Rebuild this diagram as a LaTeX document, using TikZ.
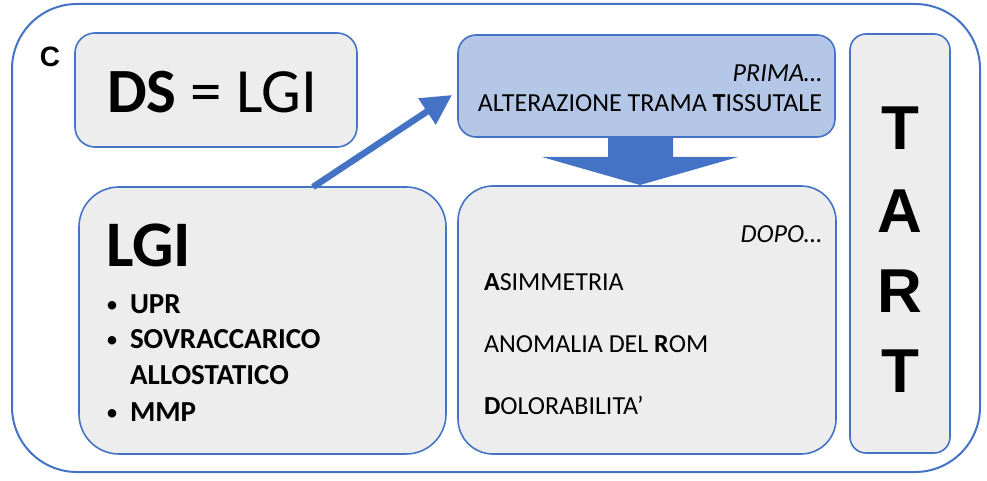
\documentclass[tikz,border=0pt]{standalone}
\usepackage{fontspec}
\setmainfont{Carlito}
\newfontfamily\arialfont{Liberation Sans}
\usetikzlibrary{arrows.meta}
\definecolor{frameblue}{HTML}{4472C4}
\definecolor{boxgray}{HTML}{EDEDED}
\definecolor{primablue}{HTML}{B4C7E7}
\begin{document}
\begin{tikzpicture}[x=1pt,y=-1pt,
  panel/.style={draw=frameblue, line width=1.6pt, fill=boxgray, rounded corners=#1,
    inner sep=0pt, outer sep=0pt, rectangle},
  txt/.style={inner sep=0pt, outer sep=0pt, font=\fontsize{26}{26}\selectfont},
  btxt/.style={inner sep=0pt, outer sep=0pt, font=\fontsize{29}{29}\selectfont\bfseries},
  bulletmark/.style={inner sep=0pt, outer sep=0pt, font=\fontsize{24}{24}\selectfont},
  tartletter/.style={inner sep=0pt, outer sep=0pt, font=\arialfont\bfseries\fontsize{62}{62}\selectfont}
]
\useasboundingbox (0,0) rectangle (987,481);
% outer frame
\draw[frameblue, line width=2pt, rounded corners=65] (12,4) rectangle (980,472);
% label C
\node[inner sep=0pt, anchor=base, font=\arialfont\bfseries\fontsize{28}{28}\selectfont] (lblC) at (50,67) {C};
% boxes
\node[panel=20, minimum width=282pt, minimum height=114pt] (ds) at (216,90) {};
\node[panel=18, fill=primablue, minimum width=377pt, minimum height=102pt] (prima) at (646.5,86) {};
\node[panel=35, minimum width=378pt, minimum height=268pt] (dopo) at (647,320) {};
\node[panel=40, minimum width=367pt, minimum height=267pt] (lgi) at (262.5,320.5) {};
\node[panel=16, minimum width=100pt, minimum height=419pt] (tart) at (900,243.5) {};
% DS = LGI
\node[inner sep=0pt, anchor=base west, font=\fontsize{63}{63}\selectfont] (dstext) at (107,113) {\textbf{DS} = LGI};
% PRIMA box text
\node[txt, anchor=base east] (primatext) at (822,82) {\itshape PRIMA\ldots};
\node[txt, anchor=base east] (alttext) at (822,112) {ALTERAZIONE TRAMA \textbf{T}ISSUTALE};
% DOPO box text
\node[txt, anchor=base east] (dopotext) at (822,242) {\itshape DOPO\ldots};
\node[txt, anchor=base west] (asim) at (484,290) {\textbf{A}SIMMETRIA};
\node[txt, anchor=base west] (anom) at (484,352) {ANOMALIA DEL \textbf{R}OM};
\node[txt, anchor=base west] (dolo) at (484,414) {\textbf{D}OLORABILITA’};
% LGI box text
\node[inner sep=0pt, anchor=base west, font=\fontsize{65}{65}\selectfont\bfseries] (lgititle) at (106,266) {LGI};
\node[bulletmark, anchor=base] (b1) at (112,312) {\textbullet};
\node[btxt, anchor=base west] (upr) at (130,313) {UPR};
\node[bulletmark, anchor=base] (b2) at (112,347) {\textbullet};
\node[btxt, anchor=base west] (sovr) at (130,348) {SOVRACCARICO};
\node[btxt, anchor=base west] (allo) at (130,384) {ALLOSTATICO};
\node[bulletmark, anchor=base] (b3) at (112,420) {\textbullet};
\node[btxt, anchor=base west] (mmp) at (130,421) {MMP};
% TART letters
\node[tartletter, anchor=base] (t1) at (900,150) {T};
\node[tartletter, anchor=base] (a1) at (900,232) {A};
\node[tartletter, anchor=base] (r1) at (900,312) {R};
\node[tartletter, anchor=base] (t2) at (900,392) {T};
% diagonal arrow
\coordinate (atail) at (313,187);
\coordinate (ahead) at (452,95);
\draw[frameblue, line width=6.5pt, -{Triangle[length=30pt,width=30pt]}] (atail) -- (ahead);
% block arrow down
\fill[frameblue] (608,137) -- (673,137) -- (673,157) -- (738,157) -- (640,185)
  -- (542,157) -- (608,157) -- cycle;
\end{tikzpicture}
\end{document}
